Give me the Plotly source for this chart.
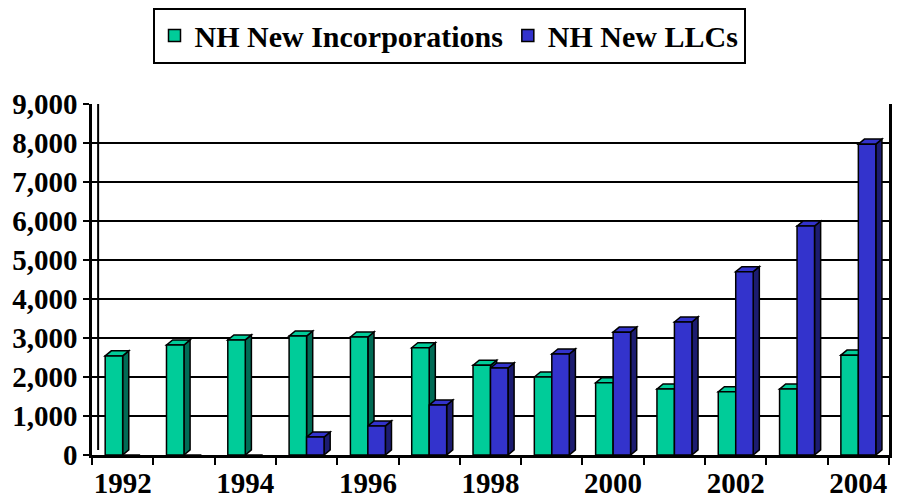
import plotly.graph_objects as go

years = list(range(1992, 2005))
incorporations = [2540, 2820, 2950, 3050, 3025, 2750, 2300, 2000, 1850, 1690, 1620, 1690, 2560]
llcs = [0, 0, 0, 460, 745, 1280, 2230, 2590, 3150, 3410, 4700, 5870, 7970]
label_years = [1992, 1994, 1996, 1998, 2000, 2002, 2004]
y_ticks = list(range(0, 9001, 1000))

green, green_side = "#00CC99", "#006B55"
blue, blue_side = "#3333CC", "#1C1C70"

bargap = 0.43
bw = (1 - bargap) / 2
dx = 0.1      # depth offset in x units
dy = 130      # depth offset in y units

FONT = "Liberation Serif"

fig = go.Figure()
fig.add_trace(go.Bar(x=years, y=incorporations, name="<b>NH New Incorporations</b>",
                     marker=dict(color=green, line=dict(color="black", width=1.5))))
fig.add_trace(go.Bar(x=years, y=llcs, name="<b>NH New LLCs</b>",
                     marker=dict(color=blue, line=dict(color="black", width=1.5))))

shapes = []
# back edge of the left wall
shapes.append(dict(type="line", xref="x", yref="y", x0=1991.5 + dx, x1=1991.5 + dx,
                   y0=dy, y1=9000, line=dict(color="black", width=2), layer="between"))
for i, (vals, face, side) in enumerate([(incorporations, green, green_side), (llcs, blue, blue_side)]):
    for yr, v in zip(years, vals):
        if v <= 0:
            continue
        x0 = yr - bw + i * bw
        x1 = x0 + bw
        side_path = f"M{x1},0 L{x1+dx},{dy} L{x1+dx},{v+dy} L{x1},{v} Z"
        top_path = f"M{x0},{v} L{x0+dx},{v+dy} L{x1+dx},{v+dy} L{x1},{v} Z"
        shapes.append(dict(type="path", path=side_path, xref="x", yref="y", layer="between",
                           fillcolor=side, line=dict(color="black", width=1.5)))
        shapes.append(dict(type="path", path=top_path, xref="x", yref="y", layer="between",
                           fillcolor=face, line=dict(color="black", width=1.5)))

fig.update_layout(
    width=898, height=504,
    margin=dict(l=92, r=9, t=104, b=49, autoexpand=False),
    paper_bgcolor="white", plot_bgcolor="white",
    font=dict(family=FONT, size=30, color="black"),
    barmode="group", bargap=bargap, bargroupgap=0,
    shapes=shapes,
    showlegend=True,
    legend=dict(orientation="h", xref="container", yref="container",
                x=0.5, xanchor="center", y=0.985, yanchor="top",
                bordercolor="black", borderwidth=2, bgcolor="white",
                font=dict(size=30, family=FONT, color="black"),
                itemwidth=30, tracegroupgap=0),
    xaxis=dict(range=[1991.5, 2004.5], tickvals=label_years,
               ticktext=[f"<b>{y}</b>" for y in label_years],
               ticks="", showgrid=False, showline=True, linecolor="black", linewidth=2.5,
               zeroline=False, automargin=False, tickfont=dict(size=29),
               minor=dict(tickvals=[y - 0.5 for y in years] + [2004.5], ticks="outside",
                          ticklen=7, tickcolor="black", tickwidth=2, showgrid=False)),
    yaxis=dict(range=[0, 9000], tickvals=y_ticks, ticktext=[f"<b>{v:,}</b>" for v in y_ticks],
               ticks="outside", ticklen=6, tickcolor="black", tickwidth=2,
               showgrid=True, gridcolor="black", gridwidth=1.5, automargin=False,
               showline=True, linecolor="black", linewidth=2.5, mirror=True,
               zeroline=False, tickfont=dict(size=29)),
)

fig.write_html("out.html", config={"displayModeBar": False},
               post_script="document.body.style.margin='0';")
